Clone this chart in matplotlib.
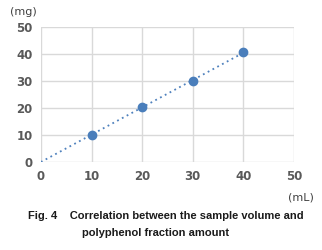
import numpy as np
import matplotlib
matplotlib.use("Agg")
import matplotlib.pyplot as plt

# Sample volume (mL) and polyphenol fraction amount (mg)
volume = [10, 20, 30, 40]
amount = [10.0, 20.3, 30.0, 40.7]
x_ticks = [0, 10, 20, 30, 40, 50]
y_ticks = [0, 10, 20, 30, 40, 50]

fig = plt.figure(figsize=(3.22, 2.5), dpi=100)
ax = fig.add_axes([0.127, 0.352, 0.786, 0.540])

# Trendline through the origin
xv = np.array(volume, dtype=float)
yv = np.array(amount, dtype=float)
slope = np.sum(xv * yv) / np.sum(xv * xv)
ax.plot([0, xv.max()], [0, slope * xv.max()], linestyle=(0, (1, 2)),
        color="#4f81bd", linewidth=1.3, zorder=2)
ax.plot(volume, amount, "o", color="#4a7ebb", markersize=6, zorder=3)

ax.set_xlim(0, 50)
ax.set_ylim(0, 50)
ax.set_xticks(x_ticks)
ax.set_yticks(y_ticks)
ax.grid(True, color="#d9d9d9", linewidth=1)
ax.set_axisbelow(True)
for s in ax.spines.values():
    s.set_visible(False)
ax.tick_params(length=0, labelsize=8.5, labelcolor="#595959", pad=6)
for lab in ax.get_xticklabels() + ax.get_yticklabels():
    lab.set_fontweight("bold")

fig.text(0.03, 0.952, "(mg)", fontsize=8, color="#404040", ha="left", va="center")
fig.text(0.975, 0.208, "(mL)", fontsize=8, color="#404040", ha="right", va="center")

fig.text(0.087, 0.136, "Fig. 4    Correlation between the sample volume and",
         fontsize=8.0, fontweight="bold", color="#1a1a1a", ha="left", va="center",
         family="Liberation Sans")
fig.text(0.482, 0.070, "polyphenol fraction amount",
         fontsize=8.0, fontweight="bold", color="#1a1a1a", ha="center", va="center",
         family="Liberation Sans")

fig.savefig("out.png", dpi=100)
